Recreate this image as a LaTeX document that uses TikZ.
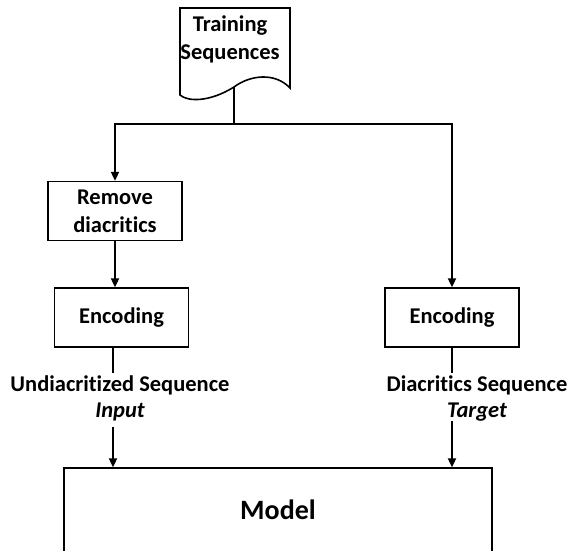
\documentclass[tikz,border=0pt]{standalone}
\usepackage{fontspec}
\setmainfont{Carlito}[Ligatures=NoCommon]
\usetikzlibrary{arrows.meta}

\begin{document}
\begin{tikzpicture}[x=1pt, y=-1pt,
    box/.style={draw, line width=1.3pt, minimum width=134pt, minimum height=59pt,
        align=center, inner sep=0pt, font=\bfseries\fontsize{22.5}{28}\selectfont},
    lbl/.style={inner sep=0pt, align=center, font=\bfseries\fontsize{22.5}{28}\selectfont},
    conn/.style={line width=1.8pt},
    arr/.style={conn, -{Triangle[length=9pt,width=8pt]}}]
    \clip (0,0) rectangle (570,550);

    % document shape
    \draw[line width=1.6pt] (180,8) -- (290,8) -- (290,88)
        .. controls (275,72) and (250,75) .. (234,87)
        .. controls (210,102) and (188,102) .. (180,95) -- cycle;
    \node[lbl] (train) at (230,39) {Training\\Sequences};
    \coordinate (docbot) at (234,87);
    \coordinate (split) at (234,124);

    \node[box] (remove) at (115,211) {Remove\\diacritics};
    \node[box] (encA) at (121.5,317.5) {Encoding};
    \node[box] (encB) at (452,317.5) {Encoding};

    \node[lbl] (undiac) at (120,385) {Undiacritized Sequence};
    \node[lbl] (input) at (120,412) {\itshape Input};
    \node[lbl] (diac) at (477,385) {Diacritics Sequence};
    \node[lbl] (target) at (477,412) {\itshape Target};

    \node[draw, line width=1.3pt, minimum width=428pt, minimum height=84pt,
        font=\bfseries\fontsize{28}{32}\selectfont] (model) at (278,510) {Model};

    \coordinate (inTop) at (113,373);
    \coordinate (inBot) at (113,427);
    \coordinate (tgTop) at (452,373);
    \coordinate (tgBot) at (452,421);

    \draw[conn] (docbot) -- (split);
    \draw[arr] (split) -| (remove.north);
    \draw[arr] (split) -| (encB.north);
    \draw[arr] (remove.south) -- (remove.south |- encA.north);
    \draw[conn] (inTop |- encA.south) -- (inTop);
    \draw[conn] (tgTop |- encB.south) -- (tgTop);
    \draw[arr] (inBot) -- (inBot |- model.north);
    \draw[arr] (tgBot) -- (tgBot |- model.north);
\end{tikzpicture}
\end{document}
